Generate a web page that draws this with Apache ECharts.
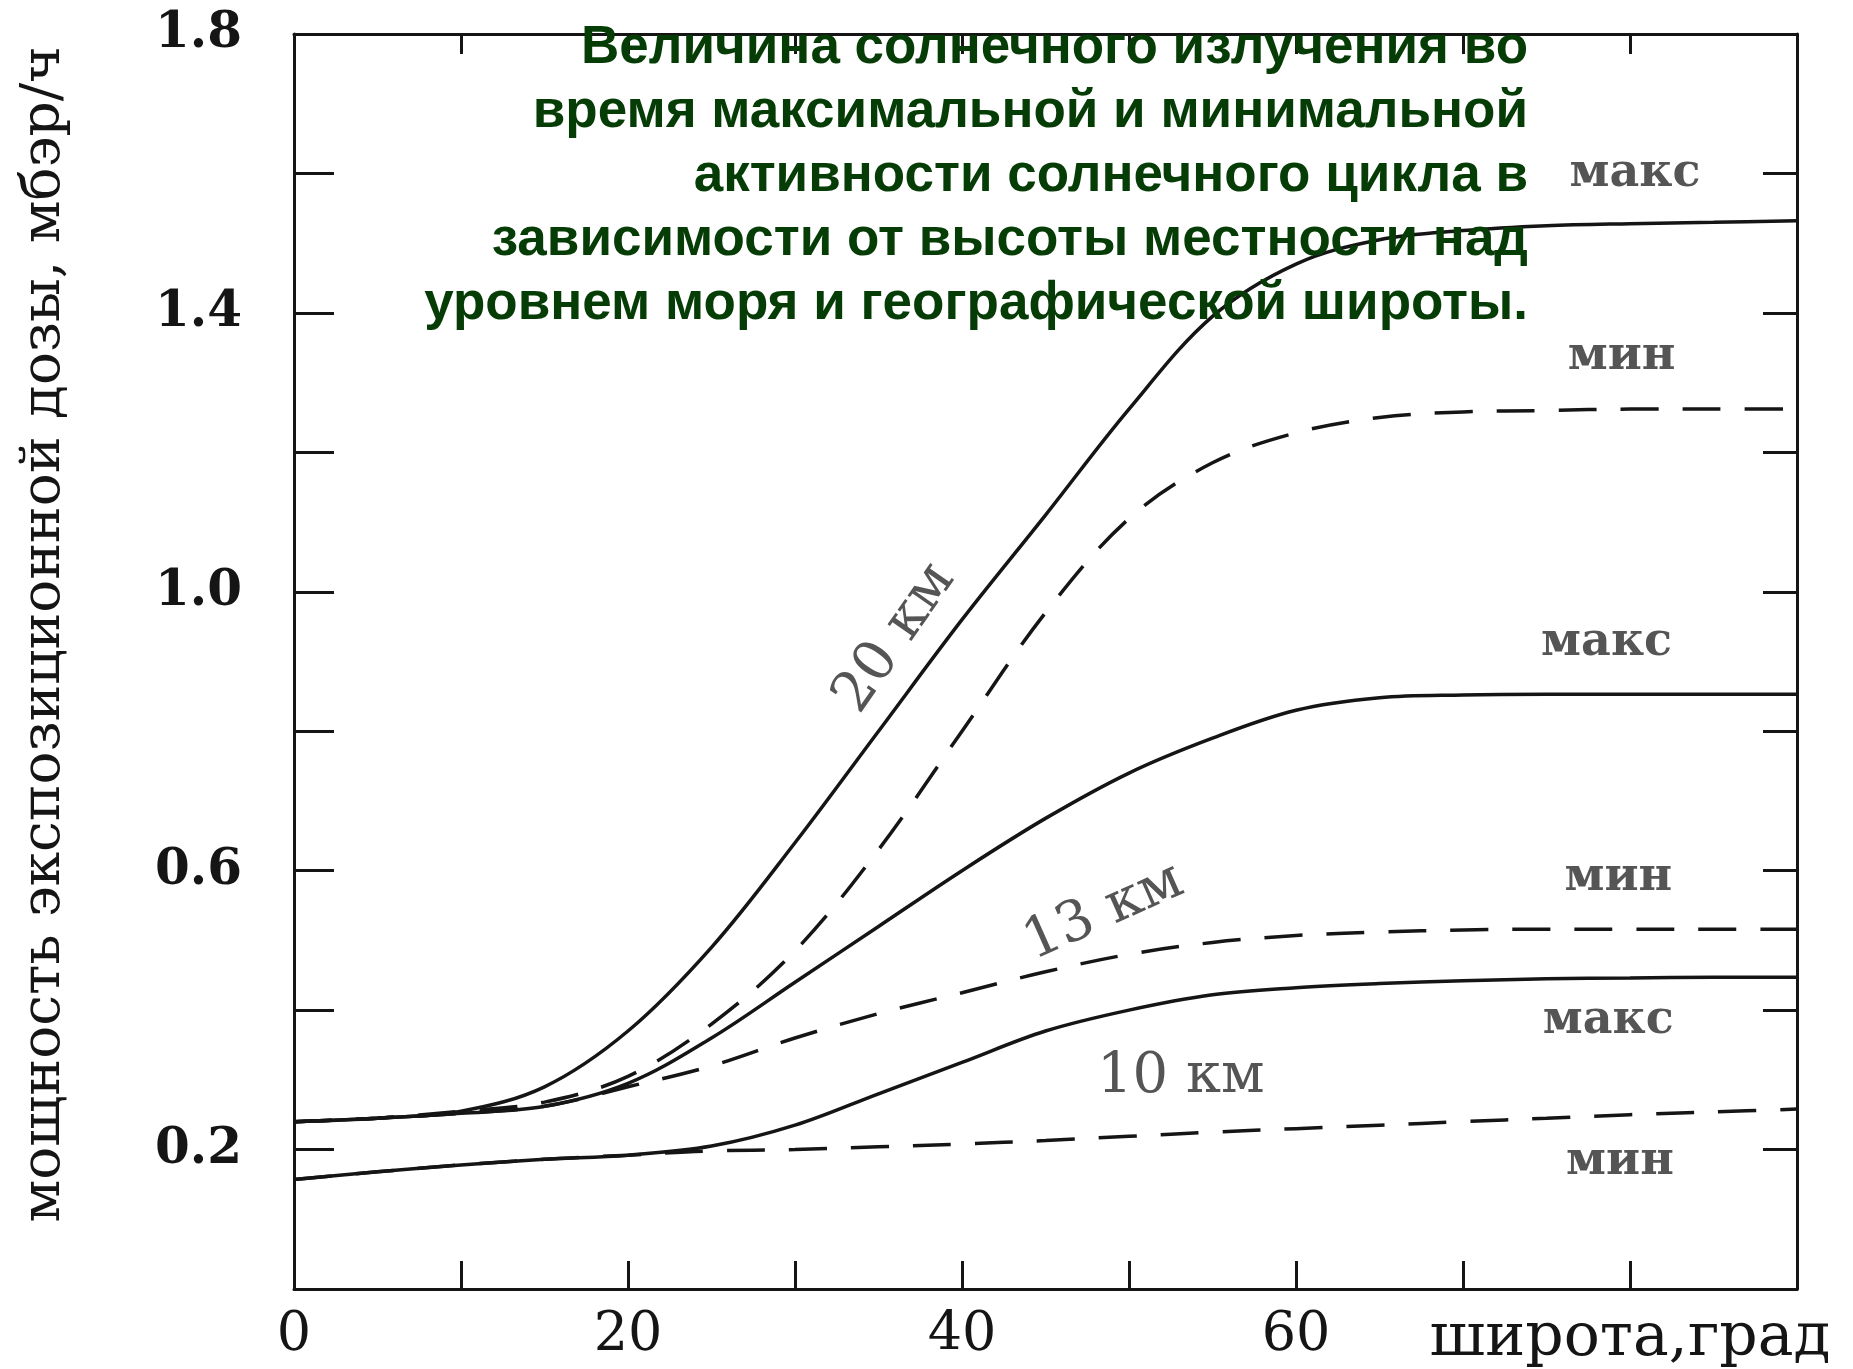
<!DOCTYPE html>
<html>
<head>
<meta charset="utf-8">
<script src="https://cdn.jsdelivr.net/npm/echarts@6/dist/echarts.min.js"></script>
<style>
html,body{margin:0;padding:0;background:#ffffff;}
#chart{width:1853px;height:1369px;}
</style>
</head>
<body>
<div id="chart"></div>
<script>
// ---------- data ----------
const latitudes = [0,5,10,15,20,25,30,35,40,45,50,55,60,65,70,75,80,85,90];

const km20Max = [0.240,0.245,0.255,0.290,0.370,0.490,0.640,0.800,0.960,1.110,1.262,1.395,1.470,1.505,1.518,1.525,1.528,1.530,1.532];
const km20Min = [0.240,0.245,0.255,0.268,0.305,0.380,0.485,0.630,0.800,0.970,1.105,1.185,1.228,1.250,1.258,1.260,1.262,1.262,1.262];
const km13Max = [0.240,0.245,0.252,0.262,0.295,0.360,0.440,0.520,0.600,0.675,0.740,0.790,0.830,0.848,0.852,0.853,0.853,0.853,0.853];
const km13Min = [0.240,0.245,0.252,0.262,0.290,0.320,0.360,0.395,0.425,0.455,0.480,0.497,0.507,0.512,0.515,0.516,0.516,0.516,0.516];
const km10Max = [0.157,0.168,0.178,0.186,0.192,0.205,0.235,0.280,0.325,0.370,0.400,0.422,0.432,0.438,0.442,0.445,0.446,0.447,0.447];
const km10Min = [0.157,0.168,0.178,0.186,0.192,0.198,0.200,0.204,0.208,0.213,0.219,0.225,0.230,0.235,0.240,0.245,0.250,0.254,0.258];

const xTickValues = [0,20,40,60,80];
const xTickTexts  = ['0','20','40','60','широта,град'];
const yTickValues = [0.2,0.6,1.0,1.4,1.8];
const yTickTexts  = ['0.2','0.6','1.0','1.4','1.8'];

const titleLines = [
  'Величина солнечного излучения во',
  'время максимальной и минимальной',
  'активности солнечного цикла в',
  'зависимости от высоты местности над',
  'уровнем моря и географической широты.'
];
const yAxisTitle = 'мощность экспозиционной дозы, мбэр/ч';

// annotations: text, latitude, value, angle
const annotationTexts  = ['макс','мин','макс','мин','макс','мин','20 км','13 км','10 км'];
const annotationX      = [80.3, 79.5, 78.6, 79.3, 78.7, 79.4, 36.0, 48.5, 53.1];
const annotationY      = [1.599,1.337,0.927,0.590,0.384,0.182,0.933,0.540,0.304];
const annotationAngles = [0,0,0,0,0,0,55,24,0];

// ---------- chart ----------
const ink = '#151515';
const serif = '"DejaVu Serif", "Liberation Serif", serif';

function pairs(arr){ return latitudes.map((x,i)=>[x, arr[i]]); }
function lineSeries(name, arr, dashed){
  return {
    name: name, type: 'line', data: pairs(arr), smooth: 0.35,
    showSymbol: false, symbol: 'none', silent: true, z: 3,
    lineStyle: { color: ink, width: 3.5, type: dashed ? [38, 24] : 'solid' }
  };
}

const chart = echarts.init(document.getElementById('chart'), null, {renderer:'canvas'});

const axisLineStyle = { color: ink, width: 3 };

chart.setOption({
  backgroundColor: '#ffffff',
  animation: false,
  graphic: [{
    type: 'text', x: 1528, y: 16, z: 100,
    style: {
      text: titleLines.join('\n'),
      align: 'right', textAlign: 'right', verticalAlign: 'top',
      fontFamily: '"Liberation Sans", Arial, sans-serif',
      fontWeight: 'bold', fontSize: 53, lineHeight: 64, fill: '#063c06'
    }
  }],
  grid: { left: 294, right: 56, top: 34, bottom: 69, containLabel: false },
  xAxis: [
    {
      type: 'value', min: 0, max: 90, interval: 10, position: 'bottom',
      axisLine: { show: true, onZero: false, lineStyle: axisLineStyle },
      axisTick: { show: true, inside: true, length: 28, lineStyle: { color: ink, width: 3 } },
      axisLabel: {
        show: true, margin: 20, color: ink, fontFamily: serif, fontSize: 54,
        formatter: v => { const i = xTickValues.indexOf(Math.round(v)); return i < 0 ? '' : (i === 4 ? '{n|' + xTickTexts[i] + '}' : xTickTexts[i]); },
        rich: { n: { fontFamily: serif, fontSize: 60, color: ink } }
      },
      splitLine: { show: false }
    },
    {
      type: 'value', min: 0, max: 90, interval: 10, position: 'top',
      axisLine: { show: true, onZero: false, lineStyle: axisLineStyle },
      axisTick: { show: true, inside: true, length: 20, lineStyle: { color: ink, width: 3 } },
      axisLabel: { show: false }, splitLine: { show: false }
    }
  ],
  yAxis: [
    {
      type: 'value', min: 0, max: 1.8, interval: 0.2, position: 'left',
      name: yAxisTitle, nameLocation: 'middle', nameRotate: 90, nameGap: 222,
      nameTextStyle: { fontFamily: serif, fontSize: 55, color: ink, padding: [0, 0, 0, 54] },
      axisLine: { show: true, onZero: false, lineStyle: axisLineStyle },
      axisTick: { show: true, inside: true, length: 40, lineStyle: { color: ink, width: 3 } },
      axisLabel: {
        show: true, margin: 52, color: ink, fontFamily: serif, fontWeight: 'bold', fontSize: 50,
        formatter: v => { const i = yTickValues.findIndex(t => Math.abs(t - v) < 1e-6); return i >= 0 ? yTickTexts[i] : ''; }
      },
      splitLine: { show: false }
    },
    {
      type: 'value', min: 0, max: 1.8, interval: 0.2, position: 'right',
      axisLine: { show: true, onZero: false, lineStyle: axisLineStyle },
      axisTick: { show: true, inside: true, length: 34, lineStyle: { color: ink, width: 3 } },
      axisLabel: { show: false }, splitLine: { show: false }
    }
  ],
  series: [
    lineSeries('20 км мин', km20Min, true),
    lineSeries('13 км мин', km13Min, true),
    lineSeries('10 км мин', km10Min, true),
    lineSeries('20 км макс', km20Max, false),
    lineSeries('13 км макс', km13Max, false),
    lineSeries('10 км макс', km10Max, false),
    {
      name: 'annotations', type: 'scatter', symbolSize: 0, silent: true, z: 5,
      data: annotationX.map((x, i) => ({
        value: [x, annotationY[i]],
        label: {
          show: true, position: 'inside', formatter: annotationTexts[i],
          rotate: annotationAngles[i],
          fontFamily: serif, color: '#2a2a2a',
          fontWeight: i < 6 ? 'bold' : 'normal',
          fontSize: i < 6 ? 46 : 56
        }
      }))
    }
  ]
});
</script>
</body>
</html>
